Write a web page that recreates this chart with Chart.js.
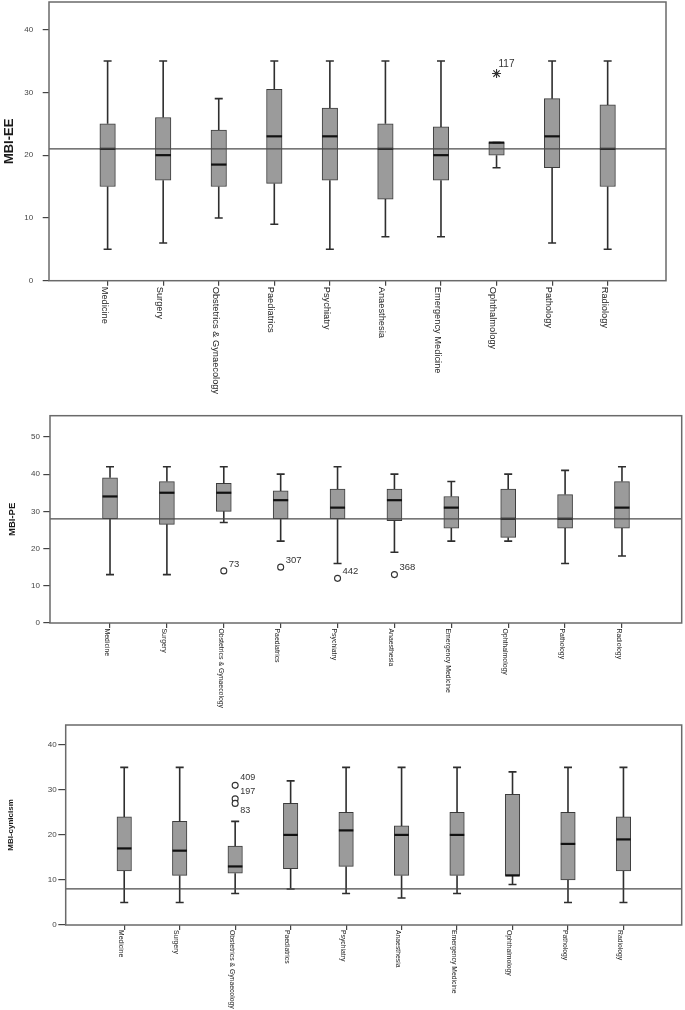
<!DOCTYPE html>
<html>
<head>
<meta charset="utf-8">
<script src="https://cdn.jsdelivr.net/npm/chart.js@4.4.1/dist/chart.umd.min.js"></script>
<style>
html, body { margin: 0; padding: 0; background: #fff; width: 685px; height: 1010px; overflow: hidden; }
canvas { position: absolute; left: 0; display: block; }
</style>
</head>
<body>
<canvas id="ee" width="685" height="410" style="top:0"></canvas>
<canvas id="pe" width="685" height="300" style="top:410px"></canvas>
<canvas id="cy" width="685" height="300" style="top:710px"></canvas>
<script>
var departments = ['Medicine', 'Surgery', 'Obstetrics & Gynaecology', 'Paediatrics', 'Psychiatry',
    'Anaesthesia', 'Emergency Medicine', 'Ophthalmology', 'Pathology', 'Radiology'];

// MBI-EE
var eeLow  = [5, 6, 10, 9, 5, 7, 7, 18, 6, 5];
var eeQ1   = [15, 16, 15, 15.5, 16, 13, 16, 20, 18, 15];
var eeMed  = [21, 20, 18.5, 23, 23, 21, 20, 22, 23, 21];
var eeQ3   = [25, 26, 24, 30.5, 27.5, 25, 24.5, 22, 29, 28];
var eeHigh = [35, 35, 29, 35, 35, 35, 35, 22, 35, 35];
var eeCut = 21;
var eeOutCat = [7];
var eeOutVal = [33];
var eeOutId  = ['117'];

// MBI-PE
var peLow  = [13, 13, 27, 22, 16, 19, 22, 22, 16, 18];
var peQ1   = [28, 26.5, 30, 28, 28, 27.5, 25.5, 23, 25.5, 25.5];
var peMed  = [34, 35, 35, 33, 31, 33, 31, 28, 28, 31];
var peQ3   = [39, 38, 37.5, 35.5, 36, 36, 34, 36, 34.5, 38];
var peHigh = [42, 42, 42, 40, 42, 40, 38, 40, 41, 42];
var peCut = 28;
var peOutCat = [2, 3, 4, 5];
var peOutVal = [14, 15, 12, 13];
var peOutId  = ['73', '307', '442', '368'];

// MBI-cynicism
var cyLow  = [5, 5, 7, 8, 7, 6, 7, 9, 5, 5];
var cyQ1   = [12, 11, 11.5, 12.5, 13, 11, 11, 11, 10, 12];
var cyMed  = [17, 16.5, 13, 20, 21, 20, 20, 11, 18, 19];
var cyQ3   = [24, 23, 17.5, 27, 25, 22, 25, 29, 25, 24];
var cyHigh = [35, 35, 23, 32, 35, 35, 35, 34, 35, 35];
var cyCut = 8;
var cyOutCat = [2, 2, 2];
var cyOutVal = [31, 28, 27];
var cyOutId  = ['409', '197', '83'];

var yTicks = [0, 10, 20, 30, 40, 50];

var FONT = '"Liberation Sans", Arial, sans-serif';
Chart.defaults.font.family = FONT;

function makePanel(canvasId, s, look) {
    var canvas = document.getElementById(canvasId);
    var H = canvas.height;

    var boxes = departments.map(function (d, i) { return { x: i, y: [s.q1[i], s.q3[i]] }; });
    var outPts = s.outCat.map(function (c, k) { return { x: c, y: s.outVal[k] }; });

    var boxParts = {
        id: 'boxParts',
        afterDatasetsDraw: function (chart) {
            var ctx = chart.ctx, xs = chart.scales.x, ys = chart.scales.y, a = chart.chartArea;
            ctx.save();
            // whiskers and caps
            ctx.strokeStyle = '#2e2e2e';
            ctx.lineWidth = 1.6;
            departments.forEach(function (d, i) {
                var px = xs.getPixelForValue(i);
                var yLo = ys.getPixelForValue(s.low[i]), yQ1 = ys.getPixelForValue(s.q1[i]);
                var yQ3 = ys.getPixelForValue(s.q3[i]), yHi = ys.getPixelForValue(s.high[i]);
                ctx.beginPath();
                ctx.moveTo(px, yQ1); ctx.lineTo(px, yLo);
                ctx.moveTo(px, yQ3); ctx.lineTo(px, yHi);
                ctx.moveTo(px - look.cap, yLo); ctx.lineTo(px + look.cap, yLo);
                ctx.moveTo(px - look.cap, yHi); ctx.lineTo(px + look.cap, yHi);
                ctx.stroke();
            });
            // medians
            ctx.strokeStyle = '#111';
            ctx.lineWidth = 2.2;
            departments.forEach(function (d, i) {
                var px = xs.getPixelForValue(i), ym = ys.getPixelForValue(s.med[i]);
                ctx.beginPath();
                ctx.moveTo(px - look.boxW / 2, ym); ctx.lineTo(px + look.boxW / 2, ym);
                ctx.stroke();
            });
            // reference line
            var yc = ys.getPixelForValue(s.cut);
            ctx.strokeStyle = '#4a4a4a';
            ctx.lineWidth = 1.2;
            ctx.beginPath();
            ctx.moveTo(a.left, yc); ctx.lineTo(a.right, yc);
            ctx.stroke();
            ctx.restore();
        },
        afterDraw: function (chart) {
            var ctx = chart.ctx, xs = chart.scales.x, ys = chart.scales.y, a = chart.chartArea;
            ctx.save();
            // frame
            ctx.strokeStyle = '#6a6a6a';
            ctx.lineWidth = 1.5;
            ctx.strokeRect(a.left, a.top, a.right - a.left, a.bottom - a.top);

            // outlier case numbers
            ctx.fillStyle = '#333';
            ctx.font = look.idFont + 'px ' + FONT;
            ctx.textAlign = 'left';
            ctx.textBaseline = 'middle';
            s.outCat.forEach(function (c, k) {
                var px = xs.getPixelForValue(c), py = ys.getPixelForValue(s.outVal[k]);
                var crowded = s.outCat.some(function (c2, k2) {
                    return c2 === c && s.outVal[k2] > s.outVal[k] && s.outVal[k2] - s.outVal[k] <= 1.5;
                });
                ctx.fillText(s.outId[k], px + look.idDx, crowded ? py - look.idDy : py + look.idDy);
            });

            // category labels, turned to read downwards
            ctx.fillStyle = '#222';
            ctx.font = look.catFont + 'px ' + FONT;
            departments.forEach(function (d, i) {
                var px = xs.getPixelForValue(i);
                ctx.save();
                ctx.translate(px - look.catShift, a.bottom + look.catGap);
                ctx.rotate(Math.PI / 2);
                ctx.scale(look.catSquash, 1);
                ctx.textAlign = 'left';
                ctx.textBaseline = 'middle';
                ctx.fillText(d, 0, 0);
                ctx.restore();
            });
            ctx.restore();
        }
    };

    return new Chart(canvas, {
        type: 'bar',
        data: {
            datasets: [
                {
                    type: 'bar',
                    data: boxes,
                    backgroundColor: '#9b9b9b',
                    borderColor: '#3c3c3c',
                    borderWidth: 1,
                    borderSkipped: false,
                    barThickness: look.boxW,
                    grouped: false
                },
                {
                    type: 'scatter',
                    data: outPts,
                    pointStyle: look.mark,
                    pointRadius: look.markR,
                    backgroundColor: '#fff',
                    borderColor: '#333',
                    borderWidth: 1.1
                }
            ]
        },
        options: {
            responsive: false,
            animation: false,
            events: [],
            layout: { autoPadding: false, padding: { top: look.top, right: 685 - look.right, bottom: 0, left: 0 } },
            plugins: { legend: { display: false }, tooltip: { enabled: false } },
            scales: {
                x: {
                    type: 'linear',
                    min: -1.055,
                    max: 10.05,
                    offset: false,
                    afterBuildTicks: function (sc) {
                        sc.ticks = departments.map(function (d, i) { return { value: i }; });
                    },
                    ticks: { display: false },
                    grid: { display: true, offset: false, drawOnChartArea: false, drawTicks: true, tickLength: 5, color: '#444', lineWidth: 1.2 },
                    border: { display: false },
                    afterFit: function (sc) {
                        sc.height = H - look.bottom;
                        sc.paddingLeft = 0;
                        sc.paddingRight = 0;
                    }
                },
                y: {
                    type: 'linear',
                    min: 0,
                    max: look.yMax,
                    afterBuildTicks: function (sc) {
                        sc.ticks = yTicks.filter(function (v) { return v <= look.yMax; })
                            .map(function (v) { return { value: v }; });
                    },
                    ticks: { font: { size: 8 }, color: '#444', padding: look.tickPad },
                    grid: { display: true, drawOnChartArea: false, drawTicks: true, tickLength: look.tickLen, color: '#444', lineWidth: 1.2 },
                    border: { display: false },
                    title: {
                        display: true,
                        text: look.title,
                        color: '#1a1a1a',
                        font: { size: look.titleSize, weight: 'bold' },
                        padding: { top: look.titlePad, bottom: 0 }
                    },
                    afterFit: function (sc) {
                        sc.width = look.left;
                        sc.paddingTop = 0;
                        sc.paddingBottom = 0;
                    }
                }
            }
        },
        plugins: [boxParts]
    });
}

makePanel('ee',
    { low: eeLow, q1: eeQ1, med: eeMed, q3: eeQ3, high: eeHigh, cut: eeCut, outCat: eeOutCat, outVal: eeOutVal, outId: eeOutId },
    { top: 2, bottom: 280.7, left: 49, right: 666, yMax: 44.4, title: 'MBI-EE', titleSize: 13, titlePad: 1.2,
      tickLen: 6.3, tickPad: 9.5, boxW: 15.5, cap: 4, mark: 'star', markR: 4.5,
      idFont: 10, idDx: 2, idDy: -9, catFont: 9.3, catSquash: 1, catShift: 3.5, catGap: 6 });

makePanel('pe',
    { low: peLow, q1: peQ1, med: peMed, q3: peQ3, high: peHigh, cut: peCut, outCat: peOutCat, outVal: peOutVal, outId: peOutId },
    { top: 5.7, bottom: 213, left: 50, right: 681.7, yMax: 55.7, title: 'MBI-PE', titleSize: 9.5, titlePad: 6.8,
      tickLen: 6.7, tickPad: 3.3, boxW: 15, cap: 4, mark: 'circle', markR: 3,
      idFont: 9.5, idDx: 5, idDy: -7, catFont: 8, catSquash: 0.86, catShift: 3, catGap: 5.5 });

makePanel('cy',
    { low: cyLow, q1: cyQ1, med: cyMed, q3: cyQ3, high: cyHigh, cut: cyCut, outCat: cyOutCat, outVal: cyOutVal, outId: cyOutId },
    { top: 15, bottom: 215, left: 65.7, right: 681.7, yMax: 44.4, title: 'MBI-cynicism', titleSize: 8, titlePad: 6.2,
      tickLen: 7.4, tickPad: 1.6, boxW: 14.5, cap: 4, mark: 'circle', markR: 3,
      idFont: 9, idDx: 5, idDy: -7.5, catFont: 8, catSquash: 0.85, catShift: 3, catGap: 5 });
</script>
</body>
</html>
